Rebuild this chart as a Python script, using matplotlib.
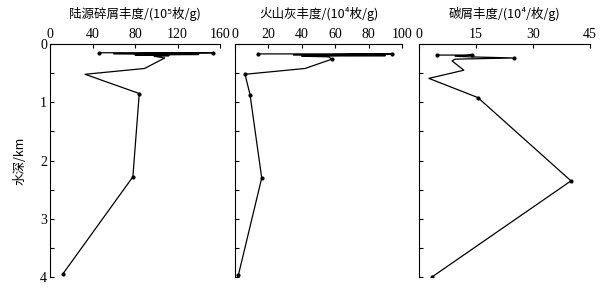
import matplotlib.pyplot as plt

plt.rcParams['font.family'] = ['Noto Sans CJK SC', 'DejaVu Sans']

# depth (km) and abundance
terr_depth = [0.15, 0.15, 0.17, 0.18, 0.19, 0.20, 0.21, 0.24, 0.42, 0.52, 0.85, 2.28, 3.95]
terr_value = [46, 153, 60, 140, 80, 112, 98, 108, 89, 33, 84, 78, 12]

ash_depth = [0.17, 0.17, 0.19, 0.20, 0.21, 0.22, 0.26, 0.42, 0.52, 0.87, 2.30, 3.97]
ash_value = [14, 94, 35, 90, 40, 56, 58, 42, 6, 9, 16, 2]

carb_depth = [0.19, 0.19, 0.21, 0.22, 0.24, 0.26, 0.29, 0.45, 0.59, 0.92, 2.35, 4.00]
carb_value = [4.7, 14, 9.5, 13, 25, 9.5, 8.7, 11.8, 2.6, 15.5, 40, 3.4]

titles = ['陆源碎屑丰度/(10⁵枚/g)', '火山灰丰度/(10⁴枚/g)', '碳屑丰度/(10⁴/枚/g)']
xticks = [[0, 40, 80, 120, 160], [0, 20, 40, 60, 80, 100], [0, 15, 30, 45]]
xlims = [(0, 160), (0, 100), (0, 45)]
series = [(terr_value, terr_depth), (ash_value, ash_depth), (carb_value, carb_depth)]
marked = [[0, 1, 10, 11, 12], [0, 1, 6, 8, 9, 10, 11], [0, 1, 4, 9, 10, 11]]
lefts = [50, 235, 419]
widths = [170, 167, 171]

fig = plt.figure(figsize=(6.13, 2.93), dpi=100)
num_font = {'family': 'Liberation Serif', 'size': 10}

for i in range(3):
    ax = fig.add_axes([lefts[i] / 613, 1 - 277 / 293, widths[i] / 613, 233 / 293])
    x, y = series[i]
    ax.plot(x, y, color='black', lw=0.9, marker='o', ms=2, markevery=marked[i])
    ax.set_xlim(*xlims[i])
    ax.set_ylim(4, 0)
    ax.xaxis.tick_top()
    ax.set_xticks(xticks[i])
    ax.set_xticklabels([str(t) for t in xticks[i]], fontdict=num_font)
    ax.set_yticks([0, 0.5, 1, 1.5, 2, 2.5, 3, 3.5, 4])
    if i == 0:
        ax.set_yticklabels(['0', '', '1', '', '2', '', '3', '', '4'], fontdict=num_font)
        ax.set_ylabel('水深/km', fontsize=9, labelpad=10)
    else:
        ax.set_yticklabels([])
    ax.tick_params(direction='in', length=3, width=0.8, pad=2, top=True, bottom=False)
    ax.spines['right'].set_visible(False)
    ax.spines['bottom'].set_visible(False)
    ax.set_title(titles[i], fontsize=9, pad=19)

fig.savefig('out.png', dpi=100)
